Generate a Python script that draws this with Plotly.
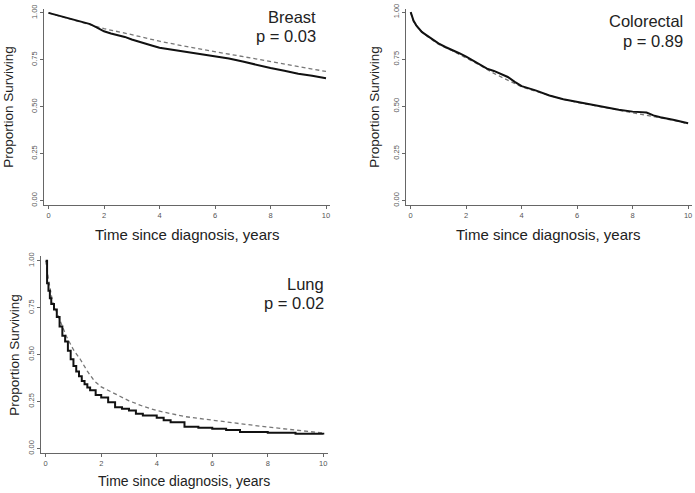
import plotly.graph_objects as go

# ---------------- data ----------------
breast_obs_t = [0, 0.25, 0.5, 0.75, 1.0, 1.25, 1.5, 1.75, 2.0, 2.25, 2.5, 2.75, 3.0, 3.25, 3.5, 3.75,
                4.0, 4.5, 5.0, 5.5, 6.0, 6.5, 7.0, 7.5, 8.0, 8.5, 9.0, 9.5, 10]
breast_obs_s = [1.0, 0.99, 0.982, 0.972, 0.962, 0.952, 0.940, 0.922, 0.902, 0.890, 0.882, 0.872, 0.858,
                0.848, 0.838, 0.825, 0.814, 0.803, 0.789, 0.781, 0.771, 0.757, 0.741, 0.722, 0.706,
                0.692, 0.676, 0.665, 0.652]
breast_exp_t = [0, 0.5, 1, 2, 3, 4, 5, 6, 7, 8, 9, 10]
breast_exp_s = [1.0, 0.98, 0.96, 0.916, 0.884, 0.849, 0.820, 0.793, 0.767, 0.741, 0.714, 0.688]

colo_obs_t = [0, 0.05, 0.1, 0.2, 0.3, 0.4, 0.5, 0.75, 1, 1.25, 1.5, 1.75, 2, 2.25, 2.5, 2.75, 3, 3.25,
              3.5, 3.75, 4, 4.5, 5, 5.5, 6, 6.5, 7, 7.5, 8, 8.5, 8.75, 9, 9.5, 10]
colo_obs_s = [1.0, 0.975, 0.955, 0.93, 0.91, 0.895, 0.885, 0.860, 0.834, 0.815, 0.800, 0.782, 0.764,
              0.744, 0.724, 0.700, 0.688, 0.672, 0.656, 0.630, 0.607, 0.585, 0.558, 0.538, 0.523,
              0.510, 0.497, 0.482, 0.472, 0.467, 0.452, 0.442, 0.428, 0.410]
colo_exp_t = [0, 0.1, 0.25, 0.5, 0.75, 1, 1.5, 2, 2.5, 3, 3.5, 4, 4.5, 5, 5.5, 6, 6.5, 7, 7.5, 8, 8.5,
              9, 9.5, 10]
colo_exp_s = [1.0, 0.95, 0.92, 0.882, 0.855, 0.830, 0.795, 0.758, 0.718, 0.675, 0.640, 0.603, 0.580,
              0.557, 0.537, 0.521, 0.507, 0.494, 0.480, 0.468, 0.455, 0.440, 0.425, 0.408]

lung_obs_t = [0, 0.05, 0.1, 0.15, 0.2, 0.3, 0.4, 0.5, 0.6, 0.7, 0.8, 0.9, 1.0, 1.1, 1.2, 1.3, 1.4, 1.5,
              1.6, 1.8, 2.0, 2.25, 2.5, 2.75, 3.0, 3.25, 3.5, 4.0, 4.25, 4.5, 5.0, 5.5, 6.0, 6.5, 7.0,
              8.0, 9.0, 10]
lung_obs_s = [1.0, 0.88, 0.84, 0.80, 0.77, 0.74, 0.70, 0.65, 0.60, 0.57, 0.52, 0.475, 0.44, 0.41, 0.385,
              0.36, 0.342, 0.325, 0.31, 0.285, 0.272, 0.246, 0.22, 0.212, 0.202, 0.185, 0.175, 0.163,
              0.15, 0.140, 0.115, 0.111, 0.105, 0.098, 0.088, 0.084, 0.079, 0.074]
lung_exp_t = [0, 0.05, 0.1, 0.25, 0.5, 0.75, 1, 1.25, 1.5, 1.75, 2, 2.5, 3, 3.5, 4, 5, 6, 7, 8, 9, 10]
lung_exp_s = [1.0, 0.95, 0.9, 0.78, 0.684, 0.596, 0.526, 0.474, 0.412, 0.36, 0.328, 0.289, 0.254,
              0.225, 0.202, 0.170, 0.149, 0.132, 0.114, 0.096, 0.082]

panel_names = ["Breast", "Colorectal", "Lung"]
p_values = ["p = 0.03", "p = 0.89", "p = 0.02"]
x_ticks = [0, 2, 4, 6, 8, 10]
y_ticks = [0, 0.25, 0.5, 0.75, 1.0]
y_tick_labels = ["0.00", "0.25", "0.50", "0.75", "1.00"]
x_title = "Time since diagnosis, years"
y_title = "Proportion Surviving"

# ---------------- figure ----------------
W, H = 695, 493
fig = go.Figure()

series = [
    (breast_obs_t, breast_obs_s, breast_exp_t, breast_exp_s, "linear"),
    (colo_obs_t, colo_obs_s, colo_exp_t, colo_exp_s, "linear"),
    (lung_obs_t, lung_obs_s, lung_exp_t, lung_exp_s, "hv"),
]

for i, (ot, os_, et, es, shp) in enumerate(series):
    ax = "" if i == 0 else str(i + 1)
    fig.add_trace(go.Scatter(x=et, y=es, mode="lines", xaxis="x" + ax, yaxis="y" + ax,
                             line=dict(color="#777777", width=1.3, dash="4px,3px"), showlegend=False))
    fig.add_trace(go.Scatter(x=ot, y=os_, mode="lines", xaxis="x" + ax, yaxis="y" + ax,
                             line=dict(color="#111111", width=2, shape=shp), showlegend=False))

# panel geometry in pixels: (left, right, top, bottom)
panels = [(44, 330, 5, 203), (405.7, 692, 5, 203), (40.7, 328, 255, 454.3)]
xranges = [[-0.162, 10.144], [-0.18, 10.14], [-0.18, 10.17]]
yranges = [[-0.021, 1.021], [-0.021, 1.017], [-0.023, 1.026]]

axis_common = dict(showline=True, linecolor="#666666", linewidth=1, ticks="outside", ticklen=3,
                   tickcolor="#666666", tickwidth=1, showgrid=False, zeroline=False,
                   tickfont=dict(family="Liberation Sans, Arial", size=7.5, color="#555555"))

for i, (l, r, t, b) in enumerate(panels):
    ax = "" if i == 0 else str(i + 1)
    fig.layout["xaxis" + ax] = dict(domain=[l / W, r / W], range=xranges[i], anchor="y" + ax,
                                    tickvals=x_ticks, **axis_common)
    fig.layout["yaxis" + ax] = dict(domain=[1 - b / H, 1 - t / H], range=yranges[i], anchor="x" + ax,
                                    tickvals=y_ticks, ticktext=y_tick_labels, tickangle=-90,
                                    **axis_common)

font_main = "Liberation Sans, Arial"
annotations = []
# x titles
xt_pos = [(187, 233, 15), (548, 233, 15), (184, 483, 14)]
for (cx, cy, fs) in xt_pos:
    annotations.append(dict(text=x_title, x=cx / W, y=1 - cy / H, xref="paper", yref="paper",
                            showarrow=False, xanchor="center", yanchor="middle",
                            font=dict(family=font_main, size=fs, color="#222222")))
# y titles
yt_pos = [(9, 104), (375, 104), (15, 355)]
for (cx, cy) in yt_pos:
    annotations.append(dict(text=y_title, x=cx / W, y=1 - cy / H, xref="paper", yref="paper",
                            showarrow=False, xanchor="center", yanchor="middle", textangle=-90,
                            font=dict(family=font_main, size=13.5, color="#222222")))
# panel labels
lab_pos = [(318, 13, 32), (685, 17, 37), (326, 283, 303)]
for i, (rx, y1, y2) in enumerate(lab_pos):
    annotations.append(dict(text=panel_names[i], x=rx / W, y=1 - y1 / H, xref="paper", yref="paper",
                            showarrow=False, xanchor="right", yanchor="middle",
                            font=dict(family=font_main, size=16.5, color="#222222")))
    annotations.append(dict(text=p_values[i], x=rx / W, y=1 - y2 / H, xref="paper", yref="paper",
                            showarrow=False, xanchor="right", yanchor="middle",
                            font=dict(family=font_main, size=16.5, color="#222222")))

fig.update_layout(width=W, height=H, margin=dict(l=0, r=0, t=0, b=0),
                  paper_bgcolor="white", plot_bgcolor="white", annotations=annotations,
                  showlegend=False)

fig.write_html("out.html", config={"displayModeBar": False},
               post_script="document.body.style.margin='0';document.body.style.overflow='hidden';")
